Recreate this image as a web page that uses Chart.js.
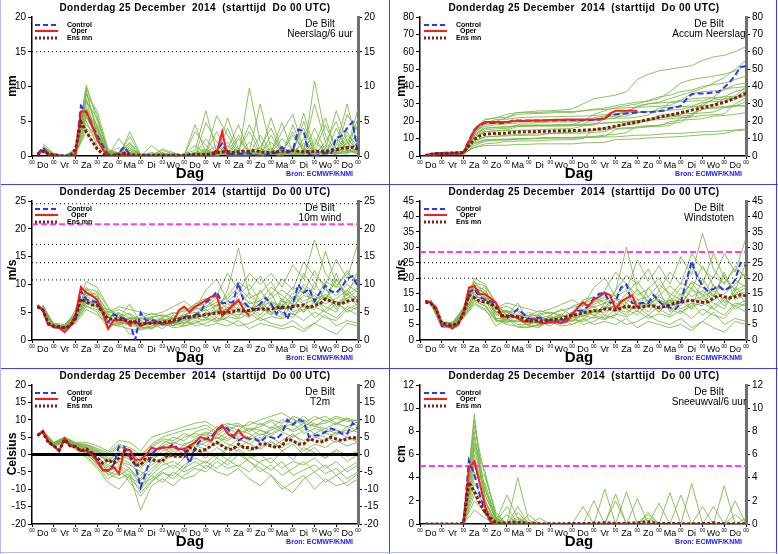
<!doctype html>
<html>

<head>
    <title>Pluim De Bilt</title>
    <script src="https://cdn.jsdelivr.net/npm/chart.js@4.4.1/dist/chart.umd.min.js"></script>
    <style>
    body { margin: 0; background: #fff; }
    #page { position: relative; width: 778px; height: 554px; overflow: hidden; }
    #page canvas { position: absolute; }
    .ln { position: absolute; background: #3b3bff; }
    .lv { position: absolute; background: #b8b8ff; }
    </style>
</head>

<body>
    <div id="page">
        <canvas id="c1" width="388" height="184" style="left:1px;top:0px"></canvas>
        <canvas id="c2" width="386" height="184" style="left:390px;top:0px"></canvas>
        <canvas id="c3" width="388" height="183" style="left:1px;top:185px"></canvas>
        <canvas id="c4" width="386" height="183" style="left:390px;top:185px"></canvas>
        <canvas id="c5" width="388" height="183" style="left:1px;top:369px"></canvas>
        <canvas id="c6" width="386" height="183" style="left:390px;top:369px"></canvas>
        <div class="ln" style="left:389px;top:0;width:1px;height:554px"></div>
        <div class="ln" style="left:776px;top:0;width:1px;height:554px"></div>
        <div class="ln" style="left:0;top:184px;width:778px;height:1px"></div>
        <div class="ln" style="left:0;top:368px;width:778px;height:1px"></div>
        <div class="lv" style="left:0;top:0;width:1px;height:554px"></div>
        <div class="lv" style="left:0;top:552px;width:778px;height:1px"></div>
    </div>
    <script>
    var dayNames = ['Do', 'Vr', 'Za', 'Zo', 'Ma', 'Di', 'Wo', 'Do', 'Vr', 'Za', 'Zo', 'Ma', 'Di', 'Wo', 'Do'];

    // control / mean: every 6 h from +6h, oper: every 6 h up to day 10, members: every 12 h

    // Neerslag/6 uur (mm)
    var rainCtrl = [0.3,1.2,0.3,0.1,0,0,0,0.3,7.2,6.3, 4.5,3,1.5,0.2,0,0.5,1.3,0.2,0,0, 0.1,0,0.1,0,0,0.1,0,0,0.1,0, 0,0,0.3,0.8,1.8,0.3,0.3,0.3,0.3,0.4, 0.1,0,0.1,0.3,0.5,1.3,0.5,0.8,3.8,3.6, 0.3,0,0.2,0.5,0.3,2.6,2.9,4.0,4.9,0.3];
    var rainOper = [0.2,0.8,0.2,0.1,0,0,0,0.2,6.4,6.4, 4.5,2.5,1.0,0,0,0.1,0.3,0.1,0,0, 0,0,0,0,0,0,0,0,0,0, 0,0,0,0.5,3.5,0,0,0,0,0];
    var rainMean = [0.2,0.7,0.3,0.1,0.1,0,0,1.0,4.9,3.5, 2.2,1.0,0.3,0.1,0.1,0.2,0.4,0.2,0.1,0.1, 0.1,0.1,0.1,0.1,0.1,0.1,0.1,0.1,0.2,0.2, 0.2,0.2,0.3,0.5,0.6,0.6,0.5,0.6,0.7,0.7, 0.8,0.6,0.5,0.5,0.6,0.7,0.7,0.8,0.7,0.6, 0.6,0.6,0.7,0.7,0.8,0.9,1.1,1.2,1.3,1.0];
    var rainMembers = [
        [1.5,0.2,0,0.5,9.5,3.0,0.3,0.2,1.5,0, 0.2,0.1,0,0,0.5,0.2,0,1.0,4.5,0.5, 0,0.3,1.2,0.5,0.2,10.8,3.0,0.5,2.5,0.8],
        [0.8,0.1,0,1.0,6.0,4.5,0.5,0,3.5,0.2, 0,0,0.2,0,3.5,1.5,0,0.5,0,9.8, 2.0,0.3,0,0.8,0.4,1.5,5.5,0.7,1.8,3.0],
        [1.0,0.3,0,0.3,8.0,2.0,0.1,2.5,0.5,0, 1.5,0.3,0,0.2,0,4.8,2.0,0.2,0.5,0.5, 7.5,1.0,0.3,3.5,0.5,0.2,1.0,6.5,2.0,0.5],
        [0.5,0.1,0,0.2,5.0,1.5,0,0.2,0.3,0, 0.1,0.8,0.3,0,0.1,0.5,5.8,3.0,0.2,0.1, 0.5,5.5,0.8,0.3,2.5,0.5,0.3,1.5,7.5,1.2],
        [1.2,0.2,0.1,0.8,10.2,5.0,0.8,0.5,2.0,0.1, 0,0,0,0.1,4.5,0.5,0.2,2.0,0.3,0.5, 0.2,0.5,3.5,6.0,1.0,0.3,0.5,0.5,1.0,6.8],
        [0.9,0.2,0,0.4,7.0,3.5,0.3,0.1,0.8,0, 0.3,0,0.1,0,0,0.3,0.5,5.5,1.0,0.2, 3.0,0.5,0.2,0.5,0.3,4.0,0.8,0.3,0.5,2.0],
        [0.6,0.1,0,0.2,4.0,2.5,0.5,1.2,0,0, 0,0.5,0,0.3,0.8,6.5,0.5,0.1,2.5,0.3, 0.5,2.0,0.5,0.2,6.2,1.0,0.2,4.0,0.8,0.3],
        [1.3,0.3,0.1,0.6,8.8,6.5,1.0,0,1.0,0.3, 0.2,0,0,0,0.2,0.3,0.5,0.3,0.8,4.5, 1.0,0.5,0.5,1.0,4.0,0.5,0.2,0.8,3.5,0.5],
        [0.7,0.2,0,0.3,6.5,2.0,0.2,0.2,0.3,0, 0,1.0,0.5,0,0.3,0.8,0.2,0.8,0.5,0.3, 0.2,0.5,2.5,0.8,0.3,0.5,1.5,0.3,0.8,1.0],
        [1.8,0.4,0,0.5,5.5,3.0,0.4,0.3,0,0.1, 0.2,0.3,0,0.2,1.5,0.5,3.5,0.5,0,0.6, 1.2,4.0,0.5,0.2,0.5,2.0,0.5,0.2,2.0,4.5],
        [1.0,0.2,0,0.7,9.0,4.0,0.6,0.3,1.8,0, 0,0,0,0,0.3,0.2,0.8,0.4,0.5,0.5, 0.3,0.2,0.6,0.5,0.8,7.5,2.0,0.5,0.3,1.2],
        [0.6,0.1,0,0.3,3.5,1.2,0.2,0,0.5,0, 0.3,0,0,0,0.5,0.2,0.2,1.5,0.3,0.2, 0.5,0.2,0.3,0.3,0.5,0.5,0.3,0.5,1.5,0.5],
        [0.9,0.3,0,0.4,7.8,5.5,0.7,0.4,0.8,0.2, 0,0.2,0,0,0.2,0.5,1.5,0.3,0.2,2.0, 0.5,1.0,0.3,0.5,1.8,0.6,4.5,1.0,0.5,5.5],
        [1.4,0.2,0,0.6,6.8,3.8,0.4,0.1,1.2,0, 0,0,0.4,0,0.2,2.5,0.3,0.5,3.0,0.4, 0.3,0.5,4.8,0.5,0.3,0.2,2.0,5.0,0.5,0.8],
        [0.5,0.1,0,0.2,4.5,2.8,0.6,0.2,0.5,0.1, 0.5,0.2,0,0,0,0.3,0.5,4.0,0.5,0.3, 0.8,0.3,0.2,4.5,0.5,1.0,0.3,0.5,6.0,3.5],
        [1.1,0.2,0,0.5,8.2,4.2,0.3,0.5,0.2,0, 0,0,0,0.1,0.5,1.0,0.2,0.3,0.2,0.8, 0.2,3.0,0.5,0.2,0.3,2.5,0.5,0.3,0.8,0.5],
        [0.8,0.2,0,0.3,5.8,2.2,0.2,0,0.4,0, 0.2,0.4,0,0,0.3,0.2,0.8,0.5,1.0,3.5, 0.5,0.3,1.0,0.5,5.0,0.5,0.5,2.5,1.0,0.3],
        [1.2,0.3,0,0.8,9.8,5.8,0.5,0.3,2.8,0.1, 0,0.3,0.2,0,0.4,0.5,0.3,0.6,0.4,0.3, 0.2,0.3,0.5,3.0,0.8,0.5,0.2,0.5,3.0,1.5]
    ];

    // Accum Neerslag (mm)
    var accCtrl = [0,1.2,1.5,1.6,1.6,1.7,1.7,2,9,15, 18,19,19,19,19,19,20.5,20.5,20.5,20.5, 20.5,20.5,20.5,20.5,20.5,20.6,20.6,20.6,20.7,20.7, 20.7,20.7,21,21.8,23.6,23.9,24.2,24.5,24.8,25.2, 25.3,25.3,25.4,25.7,26.2,27.5,28,28.8,32.6,35.6, 35.9,35.9,36.1,36.6,36.9,39.5,42.4,46.4,51.3,51.6];
    var accOper = [0,1.0,1.2,1.3,1.3,1.3,1.3,1.5,8,14.5, 18,19.5,19.5,19.5,19.5,19.6,20,20.1,20.2,20.3, 20.4,20.5,20.6,20.7,20.8,20.9,21,21,21,21, 21,21,21,21.5,24.5,26,26,26,26,26];
    var accMean = [0.3,1.0,1.3,1.5,1.6,1.7,1.8,2.1,6,9.5, 11.5,12.5,12.8,13,13,13.2,13.6,13.8,13.9,14, 14,14.1,14.2,14.3,14.4,14.5,14.5,14.6,14.7,14.8, 15,15.2,15.6,16,16.6,17.2,17.8,18.3,19,19.6, 20.3,21,21.6,22.3,23,23.6,24.2,25,25.6,26.4, 27.1,27.8,28.5,29.3,30,31,32,33.3,34.8,36];
    var accMembers = [
        [1,1.5,1.6,2,12,17,18,18.5,19,19, 19.2,19.5,19.6,19.6,20,22,23,24,26,28, 30,31,33,35,37,39,42,45,50,55],
        [1.2,1.8,1.9,2.5,16,21,22,24,25,25.5, 26,26,26.5,27,30,33,34,35,37,44, 47,49,50,51,52,55,57,58,60,63],
        [0.8,1.2,1.3,1.8,7,9,9.2,9.5,9.8,10, 10,10.2,10.3,10.3,10.5,10.8,11,11,11.5,12, 12,12.5,13,13,13.5,14,14,14.5,15,15.5],
        [1,1.4,1.5,2.2,10,14,14.5,15,17,17.2, 17.5,17.6,17.8,18,20,24,26,28,29,30, 32,34,35,37,38,40,41,42,44,46],
        [1.3,1.7,1.8,2.6,14,19,20,22,24,24.3, 24.5,24.8,25,25,26,27,27.5,29,30,31, 31.5,33,37,42,44,45,46,47,49,52],
        [0.9,1.3,1.4,1.9,8,11,11.5,12,12.5,12.6, 12.8,12.9,13,13.1,13.2,13.5,14,17,18,18.5, 21,22,22.5,23,23.5,27,28,28.5,29,31],
        [0.7,1,1.1,1.5,5,7,7.5,8.5,8.6,8.7, 8.8,9.2,9.3,9.5,10,15,16,16.5,19,19.5, 20,22,23,23.5,28,29,29.5,33,34,35],
        [1.2,1.6,1.7,2.3,13,19,21,21.2,22,22.3, 22.5,22.6,22.7,22.8,23,23.3,23.8,24.1,25,29, 30,30.5,31,32,36,37,37.5,38,41,42],
        [0.9,1.3,1.4,1.8,9,11,11.3,11.5,11.8,11.9, 12,13,13.5,13.6,14,14.8,15,15.8,16.3,16.6, 16.8,17.3,19.8,20.6,21,21.5,23,23.3,24,25],
        [1.6,2.1,2.2,2.7,11,14,14.4,14.7,14.8,15, 15.2,15.5,15.6,15.8,17.3,17.8,21.3,21.8,21.8,22.4, 23.6,27.6,28.1,28.3,28.8,30.8,31.3,31.5,33.5,38],
        [1,1.4,1.5,2.2,11,15,15.6,15.9,17.7,17.7, 17.7,17.7,17.7,17.7,18,18.2,19,19.4,19.9,20.4, 20.7,20.9,21.5,22,22.8,30.3,32.3,32.8,33.1,34.3],
        [0.6,0.9,1,1.3,4.8,6,6.2,6.2,6.7,6.7, 7,7,7,7,7.5,7.7,7.9,9.4,9.7,9.9, 10.4,10.6,10.9,11.2,11.7,12.2,12.5,13,14.5,15],
        [1,1.4,1.5,2,13,18,19,19.5,20,20.2, 20.2,20.4,20.4,20.4,20.6,21,22.5,22.8,23,25, 25.5,26,26.3,26.8,28.5,29,33,34,34.5,40],
        [1.4,1.8,1.9,2.5,12,16,16.5,16.6,17.8,17.8, 17.8,17.8,18.2,18.2,18.4,21,21.3,21.8,24.8,25.2, 25.5,26,30.8,31.3,31.6,31.8,33.8,38.8,39.3,40],
        [0.5,0.7,0.7,1,6,8.5,9,9.2,9.7,9.8, 10.3,10.5,10.5,10.5,10.5,10.8,11.3,15.3,15.8,16.1, 16.9,17.2,17.4,21.9,22.4,23.4,23.7,24.2,30,33.5],
        [1.1,1.5,1.6,2.2,12,16,16.5,17,17.2,17.2, 17.2,17.2,17.2,17.3,17.8,18.8,19,19.3,19.5,20.3, 20.5,23.5,24,24.2,24.5,27,27.5,27.8,28.6,29],
        [0.8,1.1,1.2,1.5,7.5,9.5,9.7,9.7,10.1,10.1, 10.3,10.7,10.7,10.7,11,11.2,12,12.5,13.5,17, 17.5,17.8,18.8,19.3,24.3,24.8,25.3,27.8,28.8,29],
        [1.3,1.7,1.8,2.6,15,21,22,22.3,25,25.1, 25.1,25.4,25.6,25.6,26,26.5,26.8,27.4,27.8,28.1, 28.3,28.6,29.1,32.1,32.9,33.4,33.6,34.1,37.1,38.6]
    ];

    // 10m wind (m/s)
    var windCtrl = [6.2,5.5,2.7,2.3,2.2,2.2,2.5,3.5,8.8,7.3, 7.0,6.8,4.8,3.2,4.6,4.2,3.8,3.0,0,4.9, 3.5,3.6,3.3,2.8,3.2,3.2,3.5,4.2,4.3,4.5, 5.0,6.8,7.5,8.7,6.6,6.7,6.8,10.3,6.8,5.8, 5.5,6.5,7.6,6.5,4.7,6.0,3.7,6.5,10.0,8.5, 9.2,7.0,8.5,9.8,8.8,8.5,9.5,11.0,11.5,9.5];
    var windOper = [6.3,5.2,2.8,2.4,2.2,1.4,2.5,4.5,9.5,8.5, 8.0,7.2,5.0,2.0,3.5,3.6,3.5,2.8,3.5,2.5, 3.0,3.1,3.1,3.0,3.0,3.3,5.3,6.0,5.0,6.0, 6.5,7.2,7.8,8.0,4.3,5.3,6.3,7.2,5.4,4.3];
    var windMean = [6.0,5.4,3.0,2.5,2.4,2.2,2.5,4.0,7.4,6.8, 6.3,6.3,5.0,3.8,3.8,3.8,3.6,3.3,3.2,2.8, 3.0,3.0,3.1,3.2,3.3,3.5,3.8,4.0,4.1,4.3, 4.4,4.6,4.7,4.9,4.9,5.0,5.1,5.4,5.2,5.3, 5.5,5.6,5.5,5.6,5.8,5.9,5.9,6.0,6.2,6.3, 5.8,6.2,6.5,7.4,7.0,6.6,6.5,7.0,7.2,7.0];
    var windMembers = [
        [5.8,2.6,2.0,4.5,8.5,7.5,4.0,5.0,3.0,2.5, 3.5,4.0,2.5,5.0,6.5,7.5,5.0,9.0,16.5,8.0, 6.0,4.5,7.0,5.5,9.0,6.5,8.0,5.5,9.0,7.0],
        [5.5,2.3,2.5,3.5,6.0,5.5,2.5,3.0,4.0,3.5, 2.0,3.0,4.5,3.0,4.0,3.5,6.5,5.0,4.0,7.0, 5.5,8.5,4.5,7.5,5.0,10.5,7.0,12.0,6.5,8.0],
        [6.2,2.8,1.8,5.5,10.5,9.5,6.0,4.0,6.5,3.0, 4.0,2.5,3.0,2.5,3.0,5.0,3.5,4.0,6.0,4.5, 9.0,6.0,5.0,4.0,6.5,4.0,5.5,7.0,5.0,6.0],
        [5.0,2.2,2.2,3.0,5.5,4.5,3.0,2.5,2.0,1.8, 2.5,3.5,2.5,4.0,2.5,3.0,4.0,3.5,2.5,3.0, 4.0,3.0,2.5,3.5,2.0,3.0,4.5,2.5,3.5,3.0],
        [5.7,3.0,2.8,4.8,9.0,8.0,5.0,6.0,5.5,5.0, 4.5,5.0,6.0,7.0,5.5,9.0,11.0,7.0,8.5,12.0, 10.0,12.0,9.5,13.5,11.0,18.0,12.0,9.5,12.5,10.0],
        [6.0,2.5,1.5,4.0,7.0,6.5,3.5,3.5,2.5,2.5, 3.0,2.0,3.5,3.0,4.5,5.5,4.0,6.0,5.0,5.5, 6.5,4.5,7.5,5.0,6.0,5.5,9.5,6.0,7.5,9.0],
        [5.3,2.4,2.3,3.8,6.5,7.0,4.5,4.5,3.5,2.0, 2.0,3.5,3.0,4.5,5.0,4.0,5.5,4.5,7.0,6.0, 4.5,6.5,5.5,6.0,8.0,7.5,5.0,4.0,6.0,5.5],
        [6.1,2.7,2.6,5.0,8.0,8.5,3.0,2.5,4.0,3.8, 4.0,4.5,4.0,5.5,6.0,6.5,8.0,12.0,9.0,6.5, 7.0,5.0,4.0,6.5,12.0,9.0,16.0,10.0,8.0,12.5],
        [5.6,2.2,2.0,3.2,6.2,5.0,2.0,3.5,1.0,2.2, 2.5,3.0,2.2,2.5,3.5,2.5,3.0,2.5,3.5,2.0, 3.0,2.5,2.0,2.5,1.5,3.0,2.0,1.0,3.0,2.5],
        [5.9,2.9,2.4,4.2,7.5,6.0,5.5,4.5,3.5,4.5, 3.5,3.0,4.0,3.5,4.0,4.5,5.0,6.5,5.5,5.0, 5.5,7.0,6.0,8.5,7.0,8.0,6.5,7.5,9.0,11.0],
        [5.4,2.6,2.1,3.6,7.8,6.8,4.2,3.0,3.0,2.8, 3.8,3.2,3.0,3.5,4.5,4.0,3.5,5.0,4.5,5.5, 4.0,5.5,6.5,4.5,5.5,6.0,5.0,6.5,5.5,6.5],
        [6.3,2.5,2.7,4.5,9.5,7.2,4.8,5.5,4.5,3.2, 2.8,4.0,5.0,4.0,6.5,7.0,6.0,8.0,10.5,9.0, 11.5,8.0,11.0,9.0,14.0,11.5,10.0,14.5,11.0,17.5],
        [6.1,2.6,2.4,4.3,8.0,7.8,5.2,4.2,4.8,3.5, 4.2,4.5,3.5,4.5,5.5,6.0,7.5,5.5,8.0,10.0, 7.0,9.5,8.0,6.5,10.0,8.5,7.0,11.0,8.0,9.5],
        [5.6,2.4,2.2,3.8,7.2,6.0,3.5,3.2,2.8,3.0, 3.2,2.8,3.8,4.2,3.8,4.8,4.5,5.8,5.0,4.0, 6.0,5.0,7.0,6.5,5.0,7.0,6.0,5.0,8.5,6.0],
        [5.9,2.8,2.5,4.4,8.8,7.0,4.0,4.8,4.0,2.6, 3.0,3.8,3.2,2.8,4.8,5.8,6.8,7.5,9.5,7.5, 8.5,10.5,7.0,9.5,8.5,12.5,9.0,8.0,10.0,8.5],
        [5.2,2.3,1.9,3.4,6.8,5.8,3.2,2.8,3.2,2.3, 2.2,2.8,2.6,3.2,3.0,3.8,3.2,4.2,3.8,4.8, 3.5,4.2,3.8,4.8,3.5,5.0,4.0,3.5,5.5,4.5],
        [6.0,2.7,2.3,4.6,9.2,8.8,5.8,3.8,3.8,4.0, 4.8,4.2,4.8,5.2,5.8,5.2,6.2,7.0,6.2,8.5, 6.5,7.5,9.0,7.5,9.5,7.0,10.5,9.5,12.0,10.5],
        [5.5,2.5,2.0,3.9,7.0,6.6,4.6,3.9,3.6,2.9, 3.3,3.6,3.9,3.8,4.2,4.6,5.2,5.5,6.8,5.8, 6.2,6.8,5.8,7.8,6.5,7.2,8.2,6.8,7.5,8.0]
    ];

    // Windstoten (m/s)
    var gustCtrl = [12.5,12.0,10.0,4.6,4.5,4.5,5.0,9.0,15.5,16.5, 14.0,13.0,12.5,11.8,8.0,7.0,8.5,10.0,8.5,7.0, 7.0,7.3,6.5,6.2,6.0,6.0,7.0,8.5,9.5,9.5, 11.0,13.5,15.0,15.2,12.0,12.5,17.0,18.0,12.0,11.8, 12.0,12.0,14.5,12.5,11.0,10.5,10.0,12.0,19.0,25.5, 20.5,17.5,15.8,16.5,17.5,16.0,17.0,19.5,25.0,24.0];
    var gustOper = [12.8,12.2,10.5,5.0,4.5,3.8,5.0,9.0,17.0,17.5, 14.8,14.8,13.5,12.0,7.5,7.5,7.8,7.0,6.0,6.0, 7.0,5.5,5.5,5.7,5.8,5.5,6.0,8.0,10.5,12.2, 11.0,13.0,14.0,15.3,14.5,10.0,12.5,13.5,14.5,10.5];
    var gustMean = [12.3,11.8,9.8,5.5,5.0,4.8,5.3,8.5,14.5,13.7, 12.5,12.4,11.8,10.5,8.0,7.8,7.8,7.5,7.0,6.0, 6.2,6.1,6.3,6.5,6.7,6.8,7.5,8.0,8.3,8.8, 9.2,9.5,9.5,10.0,10.0,9.7,10.3,11.0,10.7,10.5, 10.8,11.0,11.0,10.5,10.8,11.5,12.0,12.3,12.6,12.8, 12.5,12.2,12.3,13.5,14.5,14.0,13.6,14.0,14.6,14.3];
    var gustMembers = [
        [12.5,5.0,4.5,9.5,17.0,15.0,9.0,9.5,7.0,5.5, 7.0,8.0,6.0,9.0,12.0,14.0,10.0,16.0,30.0,16.0, 12.0,9.0,13.0,11.0,17.0,12.0,15.0,11.0,17.0,14.0],
        [12.0,4.5,5.0,8.0,12.5,11.0,6.0,6.5,8.0,7.0, 4.5,6.5,8.5,6.0,8.0,7.0,12.0,10.0,8.0,13.0, 11.0,16.0,9.0,14.0,10.0,20.0,14.0,22.0,13.0,15.0],
        [13.0,5.5,4.0,10.5,20.0,18.0,12.0,8.0,12.0,6.0, 8.0,5.5,6.5,5.0,6.5,10.0,7.0,8.0,12.0,9.0, 17.0,12.0,10.0,8.5,12.0,8.0,11.0,14.0,10.0,12.0],
        [11.5,4.2,4.5,7.0,11.5,9.5,6.5,5.0,4.5,4.0, 5.0,7.0,5.0,8.0,5.0,6.0,8.0,7.0,5.0,6.0, 8.0,6.0,5.0,7.0,4.0,6.0,9.0,5.0,7.0,6.0],
        [12.8,6.0,5.5,10.0,18.0,16.0,10.5,12.0,11.0,10.0, 9.0,10.0,11.5,13.0,11.0,17.0,20.0,14.0,16.0,26.0, 19.0,24.0,18.0,27.0,21.0,34.5,23.0,18.0,24.0,20.0],
        [12.6,5.2,3.5,9.0,14.5,13.0,7.0,7.0,5.0,5.0, 6.0,4.5,7.0,6.0,9.0,11.0,8.0,12.0,10.0,11.0, 13.0,9.0,14.0,10.0,12.0,11.0,18.0,12.0,15.0,17.0],
        [11.8,4.8,4.8,8.5,13.5,14.0,9.0,9.0,7.0,4.5, 4.0,7.0,6.0,9.0,10.0,8.0,11.0,9.0,14.0,12.0, 9.0,13.0,11.0,12.0,16.0,15.0,10.0,8.0,12.0,11.0],
        [12.9,5.5,5.8,10.5,16.0,17.0,6.5,5.5,8.0,8.0, 8.0,9.0,8.0,11.0,12.0,13.0,16.0,22.0,18.0,13.0, 14.0,10.0,8.0,13.0,24.0,18.0,28.0,20.0,16.0,25.0],
        [12.2,4.0,4.2,7.5,12.0,10.0,4.5,7.0,4.0,4.2, 5.0,6.0,4.5,5.0,7.0,5.0,6.0,5.0,7.0,4.0, 6.0,5.0,4.0,5.0,3.0,6.0,4.0,2.5,6.0,5.0],
        [12.4,5.8,5.0,9.0,15.0,12.0,11.0,9.0,7.0,9.0, 7.0,6.0,8.0,7.0,8.0,9.0,10.0,13.0,11.0,10.0, 11.0,14.0,12.0,17.0,14.0,16.0,13.0,15.0,18.0,22.0],
        [12.1,5.3,4.4,8.0,15.5,13.5,8.5,6.0,6.0,5.5, 7.5,6.5,6.0,7.0,9.0,8.0,7.0,10.0,9.0,11.0, 8.0,11.0,13.0,9.0,11.0,12.0,10.0,13.0,11.0,13.0],
        [13.0,5.0,5.6,10.0,19.0,14.5,10.0,11.0,9.0,6.5, 5.5,8.0,10.0,8.0,13.0,14.0,12.0,16.0,21.0,18.0, 23.0,16.0,22.0,18.0,28.0,23.0,20.0,28.0,22.0,33.0],
        [12.7,5.4,5.2,9.8,16.5,15.5,10.0,9.2,9.5,7.5, 8.5,9.0,7.5,9.0,11.0,12.0,14.0,11.0,15.0,19.0, 14.0,18.0,15.0,13.0,19.0,17.0,14.0,21.0,16.0,18.0],
        [12.0,4.6,4.6,8.2,13.8,11.5,7.0,6.5,6.0,6.2, 6.5,6.0,7.5,8.2,7.5,9.2,9.0,11.0,10.0,8.0, 12.0,10.0,13.0,12.5,10.0,13.5,12.0,10.0,16.0,12.0],
        [12.6,5.6,5.2,9.2,17.5,14.0,8.0,9.5,8.0,5.2, 6.0,7.5,6.5,6.0,9.5,11.5,13.0,14.5,18.0,14.5, 16.5,20.0,14.0,18.5,16.5,24.0,17.5,16.0,19.5,17.0],
        [11.6,4.4,4.0,7.2,13.0,11.0,6.5,5.8,6.5,4.8, 4.6,5.8,5.4,6.5,6.0,7.5,6.5,8.5,7.5,9.5, 7.0,8.5,7.5,9.5,7.0,10.0,8.0,7.0,11.0,9.0],
        [12.9,5.5,5.0,9.8,18.5,17.5,11.5,7.8,7.5,8.0, 9.5,8.5,9.5,10.5,11.5,10.5,12.0,13.5,12.0,16.5, 12.5,14.5,17.5,14.5,18.5,14.0,20.5,18.5,23.0,20.5],
        [12.2,5.0,4.4,8.4,14.0,13.2,9.0,7.8,7.2,5.8, 6.6,7.2,7.8,7.6,8.4,9.2,10.2,10.8,13.0,11.2, 12.0,13.2,11.2,15.0,12.6,14.0,16.0,13.2,14.6,15.5]
    ];

    // T2m (Celsius)
    var tempCtrl = [5.5,6.5,4.0,2.5,1.0,4.5,2.5,2.5,1.0,1.0, 0.5,-1.5,-4.5,-4.5,-3.0,2.3,2.2,-0.5,-3.0,-9.5, -5.0,0.0,1.5,2.0,2.0,3.0,1.5,1.5,-2.5,2.0, 4.0,4.5,5.0,7.0,8.0,7.5,5.0,4.0,5.0,4.5, 4.5,3.5,5.0,5.0,4.5,6.0,10.0,8.5,10.0,9.5, 5.0,5.5,5.5,6.5,7.5,7.0,6.0,6.0,9.0,7.5];
    var tempOper = [5.5,6.8,3.5,2.5,1.0,4.7,2.5,2.2,1.3,1.0, 0,-2,-4.5,-4.7,-3.5,-5.5,1.5,1.3,-1.5,-1.5, 0,2,1.5,2,2,2.3,1.5,1.5,2.5,3.5, 5,4.5,4,7,8.5,6,5,7,5,4.5];
    var tempMean = [5.5,6.5,3.5,2.5,1.2,4.3,2.5,2.2,1.0,1.6, 0.5,-1.0,-2.5,-1.5,-2.5,-1.0,1.0,-0.5,-3.0,-3.0, -1.0,-1.5,-1.8,-2.0,0.0,-0.5,-0.5,-0.5,2.0,1.5, 1.0,1.5,2.5,3.5,2.5,1.5,1.5,3.0,2.0,2.0, 1.5,3.0,3.0,2.5,2.0,2.5,4.5,4.0,3.0,3.0, 4.5,4.0,3.5,4.0,5.0,4.5,4.0,4.5,5.0,4.5];
    var tempMembers = [
        [6.5,3.0,4.5,2.5,2.0,0.5,-2.0,-1.0,-2.5,-6.0, -3.0,-1.0,1.0,-1.0,2.0,3.5,5.0,4.0,6.0,5.0, 7.0,6.0,8.0,7.0,9.0,8.0,7.5,9.0,8.0,9.5],
        [6.0,2.5,4.0,2.0,0.5,-3.0,-6.0,-4.0,-8.0,-12.0, -8.0,-5.0,-7.0,-4.0,-2.0,-4.0,-1.0,-3.0,0.0,-2.0, -5.0,-3.0,-6.0,-4.0,-2.0,-5.0,-3.0,-6.0,-4.0,-2.0],
        [7.0,3.5,5.0,3.0,3.0,1.5,0.0,2.5,1.0,-2.0, 2.0,4.0,3.0,5.0,6.0,5.5,8.0,7.0,8.5,6.5, 9.0,7.5,10.0,9.0,11.0,8.5,9.0,10.5,9.5,10.0],
        [5.5,2.0,3.5,1.5,-1.0,-4.0,-8.0,-10.0,-6.0,-16.0, -9.0,-7.0,-9.0,-6.0,-4.0,-5.0,-2.0,-4.0,-3.0,-5.0, -2.0,-1.0,-4.0,-2.0,-3.0,-1.0,-4.0,-2.0,-5.0,-3.0],
        [6.2,3.2,4.8,3.3,2.5,1.0,-1.0,-3.0,-5.0,-7.0, -2.0,1.0,2.0,0.0,3.0,5.0,6.0,4.5,7.0,6.0, 4.0,8.0,6.5,5.0,7.0,9.0,6.0,5.5,8.0,7.0],
        [6.8,2.8,4.2,2.2,1.0,-2.0,-4.0,-2.0,-3.0,-5.0, -6.0,-3.0,-2.0,-4.0,0.0,1.0,-1.0,2.0,1.0,-2.0, -4.0,-6.0,-9.0,-11.0,-7.0,-5.0,-8.0,-6.0,-9.0,-7.0],
        [6.4,3.0,4.4,2.8,1.5,-1.0,-3.0,0.0,-1.5,-4.0, -1.0,2.0,0.0,3.0,4.0,2.5,5.0,3.0,2.0,4.0, 6.0,5.0,3.0,5.5,4.0,6.0,5.0,3.5,5.0,4.0],
        [5.8,2.6,3.8,2.5,0.0,-2.5,-5.0,-6.0,-4.0,-9.0, -5.0,-2.0,-4.0,-1.0,1.0,-1.0,2.0,0.0,3.0,1.0, 2.0,4.0,1.0,3.0,0.0,2.0,-1.0,1.0,-2.0,0.0],
        [6.6,3.4,5.0,3.5,3.5,2.5,1.0,4.0,3.5,1.0, 5.0,6.0,7.0,8.0,9.0,9.5,7.5,9.0,8.0,8.5, 10.0,11.0,12.0,10.0,9.0,11.0,9.5,11.0,10.0,9.0],
        [6.1,2.4,3.6,1.8,-0.5,-3.5,-7.0,-5.0,-7.0,-10.0, -6.0,-8.0,-5.0,-7.0,-6.0,-3.0,-5.0,-6.0,-4.0,-7.0, -9.0,-6.0,-10.0,-8.0,-6.0,-10.0,-7.0,-9.0,-8.0,-5.5],
        [6.3,3.1,4.6,2.6,1.8,0.0,-2.0,-1.5,0.0,-3.0, -1.0,0.0,1.5,2.0,3.5,4.0,3.0,5.5,4.5,3.0, 5.0,2.0,4.0,6.0,3.0,5.0,4.0,6.5,5.0,3.5],
        [6.7,3.3,4.7,3.0,2.2,0.8,-1.5,1.0,-1.0,-2.5, 0.5,3.0,5.0,4.0,6.5,7.5,6.0,8.5,9.0,7.0, 8.0,9.5,7.0,11.0,10.0,8.0,10.0,8.5,10.5,8.0],
        [6.2,2.9,4.3,2.6,1.2,-1.5,-3.5,-2.0,-4.0,-7.5, -4.0,-1.5,-0.5,1.0,2.5,1.5,3.5,2.0,4.5,3.0, 1.5,3.5,2.0,4.0,1.0,3.0,2.0,4.0,2.5,3.5],
        [6.5,3.2,4.6,3.1,2.6,1.2,-0.5,2.0,1.5,-1.0, 3.0,5.0,6.0,7.0,7.5,8.5,6.5,8.0,7.0,9.5, 8.5,10.0,9.0,10.5,8.0,10.0,11.0,9.0,10.5,9.5],
        [5.9,2.7,4.0,2.3,0.8,-2.2,-4.5,-3.5,-6.5,-8.5, -7.0,-4.5,-3.0,-5.0,-3.5,-2.0,-4.0,-1.5,-3.5,-1.0, 0.0,-2.5,1.0,-1.5,2.0,0.5,-1.0,1.5,-0.5,1.0],
        [6.6,3.3,4.9,3.2,2.8,1.8,0.5,3.0,2.0,0.0, 2.5,4.5,4.0,6.0,5.0,6.5,5.5,7.5,6.0,7.5, 5.5,7.0,8.5,6.5,8.0,6.0,7.5,6.0,7.0,6.5],
        [6.0,2.6,3.9,2.1,0.2,-2.8,-5.5,-7.0,-5.5,-11.0, -7.5,-5.5,-6.0,-3.0,-1.0,-2.5,0.5,-1.5,1.5,-0.5, -2.5,-4.5,-2.0,-6.0,-4.5,-3.0,-5.5,-4.0,-7.0,-5.0],
        [6.4,3.1,4.5,2.9,2.0,0.2,-1.8,0.5,-0.5,-3.5, 1.0,2.5,3.5,2.5,4.5,6.0,4.5,6.5,5.0,7.5, 7.0,5.5,7.5,9.0,6.0,7.5,6.5,7.0,6.0,7.5]
    ];

    // Sneeuwval/6 uur (cm)
    var snowCtrl = [0,0,0,0,0,0,0,0,5.5,4.3, 2.5,1.0,0.2,0,0,0,0,0,0,0, 0,0,0,0,0,0,0,0,0,0, 0,0,0,0,0,0,0,0,0,0, 0,0,0,0,0,0,0,0,0,0, 0,0,0,0,0,0,0,0,0,0];
    var snowOper = [0,0,0,0,0,0,0,0,4.8,5.4, 3.5,1.5,0.2,0,0,0,0,0,0,0, 0,0,0,0,0,0,0,0,0,0, 0,0,0,0,0,0,0,0,0,0];
    var snowMean = [0,0,0,0,0,0,0,0.1,3.6,2.8, 1.8,1.0,0.5,0.1,0.05,0.1,0.15,0.15,0.1,0.05, 0.05,0.03,0.03,0.03,0.03,0.03,0.03,0.05,0.05,0.05, 0.05,0.08,0.08,0.1,0.08,0.05,0.05,0.05,0.08,0.1, 0.15,0.2,0.1,0.05,0.05,0.05,0.05,0.03,0.03,0.03, 0.03,0.05,0.05,0.1,0.05,0.03,0.03,0.03,0.03,0.03];
    var snowMembers = [
        [0,0,0,0,9.5,1.0,0,0,0.2,0, 0,0,0,0,0,0,0,0,0,0, 0,0,0,0,0,0,0,0,0,0],
        [0,0,0,0,7.0,4.5,0.5,0,4.0,0.3, 0,0,0,0,0,0,0,0,0,0, 0,0,0,0,0,0,0,0,0,0],
        [0,0,0,0,5.0,3.0,0.2,2.5,0.5,0, 0,0,0,0,0,0,0,2.0,0,0, 0,0,0,0,0,0,0,0,0,0],
        [0,0,0,0,3.5,2.0,0,0,0,0, 0.5,0,0,0,0,0,3.0,0,0,0, 0,0,0,0,0,0,0,3.3,0,0],
        [0,0,0,0,8.5,4.0,1.0,0,0,0, 0,0,0,0,1.5,0,0,0,0,0, 0.8,0,0,0,3.5,0,0,0,0,0],
        [0,0,0,0,6.0,1.5,0,0,1.5,0, 0,0,0,0,0,0,0,0,2.8,0, 0,0,2.7,0,0,0,0,0,0,0],
        [0,0,0,0,2.0,1.0,0,0.8,0,0, 0,0,0,0,0,0,0,0,0,0, 0,1.8,0,0,0,0,1.5,0,0,0.5],
        [0,0,0,0,4.5,3.5,0.5,0,0,0, 0,0,0,0,0,2.0,0,0,0,2.2, 0,0,0,2.5,0,0,0,0,0,0],
        [0,0,0,0,1.2,0.5,0,0,0,0, 0,0,0,0,0,0,0,0,0,0, 0.5,0,0,0,0,0,0,0,0,0],
        [0,0,0,0,6.5,2.5,0.3,0,0,0.8, 0,0,0,0,0,0,0,2.6,0,0, 0,0,0,0,0,1.5,0,0,2.0,0],
        [0,0,0,0,3.0,1.5,0,0,1.0,0, 0,0,0,0,0,0,0,0,0,0, 1.0,0,0,0,0,0,0,0,0,0],
        [0,0,0,0,9.0,2.5,0.4,0,0,0, 0,0,0,0,0,0,0,0,0,0, 0,0,0,0,0,0,0,0,0.8,0],
        [0,0,0,0,5.5,3.0,0.6,0,0,0, 0,0,0,0,0,0,0,0,0,0, 0,0,0,0,0,0,0,0,0,0],
        [0,0,0,0,7.5,2.0,0.2,1.5,0,0, 0,0,0,0,0,0,0,0,0,0, 0,0,0,0,0,0,0,0,0,0],
        [0,0,0,0,4.0,4.2,0.8,0,0.6,0, 0,0,0,0,0,0,0,0,0,0, 0,0,0,0,0,0,0,0,0,0],
        [0,0,0,0,2.5,0.8,0,0,0,0, 0,0,0,0,0,0,0,0,0,0, 0,0,0,0,0,0,0,0,0,0],
        [0,0,0,0,6.8,3.2,0.2,0,0,0, 0,0,0,0,0,0,0,0,0,0, 0,0,0,0,0,0,0,0,0,0],
        [0,0,0,0,8.0,1.8,0.1,0,0.4,0, 0,0,0,0,0,0,0,0,0,0, 0,0,0,0,0,0,0,0,0,0]
    ];

    var FONT = "'Liberation Sans', Arial, sans-serif";
    var GREEN = 'rgba(122,182,70,0.85)';
    var BLUE = '#3030ff';
    var RED = '#ff1a1a';
    var BROWN = '#801c14';

    var halfDays = [];
    for (var d = 0; d <= 15; d += 0.5) halfDays.push(d);

    function lineSet(vals, step, color, width, dash, order) {
        return {
            data: vals.map(function(v, i) { return {x: (i + 1) * step, y: v}; }),
            borderColor: color,
            borderWidth: width,
            borderDash: dash || [],
            pointRadius: 0,
            tension: 0,
            fill: false,
            order: order
        };
    }

    function refSet(v, color, width, dash) {
        return {
            data: [{x: 0, y: v}, {x: 15, y: v}],
            borderColor: color,
            borderWidth: width,
            borderDash: dash,
            pointRadius: 0,
            order: 3
        };
    }

    var decor = {
        id: 'decor',
        afterDraw: function(chart, args, o) {
            var c = chart.ctx;
            var dy = o.dy;
            c.save();
            c.fillStyle = '#000';
            c.textBaseline = 'middle';

            // title
            c.font = 'bold 10px ' + FONT;
            c.textAlign = 'center';
            c.letterSpacing = '0.4px';
            c.fillText('Donderdag 25 December  2014  (starttijd  Do 00 UTC)', 194, 8 + dy);
            c.letterSpacing = '0px';

            // legend
            var items = [
                {t: 'Control', x: 66, y: 25, col: BLUE, w: 2, dash: [5, 3]},
                {t: 'Oper', x: 70, y: 31, col: RED, w: 2, dash: []},
                {t: 'Ens mn', x: 66, y: 38, col: BROWN, w: 3, dash: [2, 2]}
            ];
            items.forEach(function(it) {
                c.beginPath();
                c.strokeStyle = it.col;
                c.lineWidth = it.w;
                c.setLineDash(it.dash);
                c.moveTo(34, it.y + dy);
                c.lineTo(57, it.y + dy);
                c.stroke();
                c.font = 'bold 7px ' + FONT;
                c.textAlign = 'left';
                c.fillText(it.t, it.x, it.y + dy);
            });
            c.setLineDash([]);

            // location and parameter
            c.font = '10px ' + FONT;
            c.textAlign = 'center';
            c.fillText('De Bilt', 319, 24 + dy);
            c.fillText(o.param, 319, 34 + dy);

            // axis titles
            c.font = 'bold 15px ' + FONT;
            c.fillText('Dag', 189, 174 + dy);
            c.save();
            c.translate(12, 86 + dy);
            c.rotate(-Math.PI / 2);
            c.font = 'bold 12px ' + FONT;
            c.fillText(o.unit, 0, 0);
            c.restore();

            c.font = 'bold 7px ' + FONT;
            c.fillStyle = '#1a1aff';
            c.textAlign = 'right';
            c.fillText('Bron: ECMWF/KNMI', 352, 174 + dy);
            c.restore();
        }
    };

    function makePanel(p) {
        var canvas = document.getElementById(p.id);
        var H = canvas.height;
        var sets = [];
        p.members.forEach(function(m) { sets.push(lineSet(m, 0.5, GREEN, 1, null, 5)); });
        (p.dotted || []).forEach(function(v) { sets.push(refSet(v, '#000', 1, [1, 3])); });
        (p.magenta || []).forEach(function(v) { sets.push(refSet(v, '#ff3cff', 2, [6, 3])); });
        if (p.zero) sets.push(refSet(0, '#000', 3, []));
        sets.push(lineSet(p.ctrl, 0.25, BLUE, 2, [6, 3], 2));
        sets.push(lineSet(p.oper, 0.25, RED, 2, [], 1));
        sets.push(lineSet(p.mean, 0.25, BROWN, 3, [3, 2], 0));

        var yAxis = function(pos) {
            return {
                position: pos,
                min: p.min,
                max: p.max,
                ticks: {stepSize: p.step, color: '#000', font: {family: FONT, size: 10}, padding: 2},
                grid: {drawOnChartArea: false, tickLength: 4, color: '#000'},
                border: pos === 'left' ? {color: '#000', width: 1.5} : {color: '#707070', width: 3},
                afterFit: function(s) { s.width = pos === 'left' ? p.leftW : p.rightW; }
            };
        };

        return new Chart(canvas, {
            type: 'line',
            data: {datasets: sets},
            options: {
                responsive: false,
                animation: false,
                events: [],
                layout: {padding: {top: p.top, left: 0, right: 0, bottom: 0}},
                plugins: {
                    legend: {display: false},
                    tooltip: {enabled: false},
                    decor: {param: p.param, unit: p.unit, dy: p.top - 17}
                },
                scales: {
                    x: {
                        type: 'linear',
                        min: 0,
                        max: 15,
                        afterBuildTicks: function(s) {
                            s.ticks = halfDays.map(function(v) { return {value: v}; });
                        },
                        afterFit: function(s) { s.height = H - p.bottom; },
                        grid: {
                            drawOnChartArea: false,
                            tickLength: 3,
                            color: function(ctx) {
                                return ctx.tick && ctx.tick.value % 1 === 0 ? '#000' : 'rgba(0,0,0,0)';
                            }
                        },
                        border: {color: '#000', width: 1.5},
                        ticks: {
                            autoSkip: false,
                            maxRotation: 0,
                            padding: 1,
                            color: '#000',
                            font: function(ctx) {
                                return ctx.tick && ctx.tick.value % 1 === 0 ? {family: FONT, size: 5} : {family: FONT, size: 9};
                            },
                            callback: function(v) {
                                return v % 1 === 0 ? '00' : dayNames[Math.floor(v)];
                            }
                        }
                    },
                    y: yAxis('left'),
                    y2: yAxis('right')
                }
            },
            plugins: [decor]
        });
    }

    window.onload = function() {
        makePanel({id: 'c1', top: 17, bottom: 156, leftW: 31, rightW: 31, min: 0, max: 20, step: 5,
            unit: 'mm', param: 'Neerslag/6 uur', dotted: [15],
            members: rainMembers, ctrl: rainCtrl, oper: rainOper, mean: rainMean});
        makePanel({id: 'c2', top: 17, bottom: 156, leftW: 30, rightW: 30, min: 0, max: 80, step: 10,
            unit: 'mm', param: 'Accum Neerslag',
            members: accMembers, ctrl: accCtrl, oper: accOper, mean: accMean});
        makePanel({id: 'c3', top: 16, bottom: 155, leftW: 31, rightW: 31, min: 0, max: 25, step: 5,
            unit: 'm/s', param: '10m wind', dotted: [10.8, 13.9, 17.2, 24.5], magenta: [20.8],
            members: windMembers, ctrl: windCtrl, oper: windOper, mean: windMean});
        makePanel({id: 'c4', top: 16, bottom: 155, leftW: 30, rightW: 30, min: 0, max: 45, step: 5,
            unit: 'm/s', param: 'Windstoten', dotted: [20, 25], magenta: [28.5],
            members: gustMembers, ctrl: gustCtrl, oper: gustOper, mean: gustMean});
        makePanel({id: 'c5', top: 16, bottom: 155, leftW: 31, rightW: 31, min: -20, max: 20, step: 5,
            unit: 'Celsius', param: 'T2m', zero: true,
            members: tempMembers, ctrl: tempCtrl, oper: tempOper, mean: tempMean});
        makePanel({id: 'c6', top: 16, bottom: 155, leftW: 30, rightW: 30, min: 0, max: 12, step: 2,
            unit: 'cm', param: 'Sneeuwval/6 uur', magenta: [5],
            members: snowMembers, ctrl: snowCtrl, oper: snowOper, mean: snowMean});
    };
    </script>
</body>

</html>
